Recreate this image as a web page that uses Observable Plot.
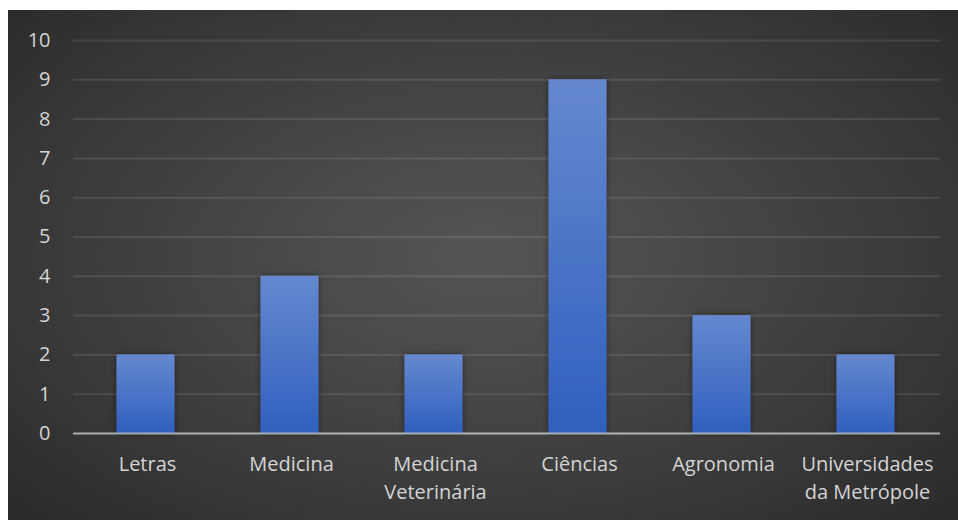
<!DOCTYPE html>
<html>
<head>
<meta charset="utf-8">
<script src="https://cdn.jsdelivr.net/npm/d3@7"></script>
<script src="https://cdn.jsdelivr.net/npm/@observablehq/plot@0.6"></script>
<style>
  html, body { margin: 0; padding: 0; background: #ffffff; }
  #frame {
    position: absolute; left: 8px; top: 10px; width: 950px; height: 510px;
    background: radial-gradient(ellipse 70% 75% at 50% 48%, #555555 0%, #454545 40%, #2a2a2a 100%);
    overflow: hidden;
  }
  #frame svg { background: transparent; }
</style>
</head>
<body>
<div id="frame"></div>
<script>
const categories = ["Letras", "Medicina", "Medicina Veterinária", "Ciências", "Agronomia", "Universidades da Metrópole"];
const tickLabels = ["Letras", "Medicina", "Medicina\nVeterinária", "Ciências", "Agronomia", "Universidades\nda Metrópole"];
const values = [2, 4, 2, 9, 3, 2];
const yTicks = [0, 1, 2, 3, 4, 5, 6, 7, 8, 9, 10];

const data = categories.map((c, i) => ({category: c, value: values[i]}));
const labelOf = new Map(categories.map((c, i) => [c, tickLabels[i]]));

const defs = () => {
  const g = d3.create("svg:defs");
  const lg = g.append("linearGradient").attr("id", "barGrad").attr("x1", 0).attr("y1", 0).attr("x2", 0).attr("y2", 1);
  lg.append("stop").attr("offset", "0%").attr("stop-color", "#6688cf");
  lg.append("stop").attr("offset", "100%").attr("stop-color", "#2f60bf");
  const f = g.append("filter").attr("id", "shadow").attr("x", "-30%").attr("y", "-10%").attr("width", "160%").attr("height", "120%");
  f.append("feDropShadow").attr("dx", 0).attr("dy", 0).attr("stdDeviation", 3).attr("flood-color", "#000").attr("flood-opacity", 0.45);
  return g.node();
};

const chart = Plot.plot({
  width: 950,
  height: 510,
  marginLeft: 65,
  marginRight: 18,
  marginTop: 30,
  marginBottom: 87,
  style: {fontFamily: "'Open Sans', sans-serif", fontSize: "20px", color: "#d4d4d4", background: "transparent"},
  x: {domain: categories, paddingInner: 0.6, paddingOuter: 0.3, label: null},
  y: {domain: [0, 10], ticks: yTicks, label: null},
  marks: [
    defs,
    Plot.gridY(yTicks, {stroke: "#ffffff", strokeOpacity: 0.1, strokeWidth: 2}),
    Plot.barY(data, {x: "category", y: "value", fill: "url(#barGrad)", dx: -1.5}),
    Plot.ruleY([0], {stroke: "#ffffff", strokeOpacity: 0.55, strokeWidth: 2}),
    Plot.axisY(yTicks, {tickSize: 0, tickPadding: 23, fill: "#d4d4d4", fontSize: 20, label: null}),
    Plot.axisX({tickSize: 0, tickPadding: 18, fill: "#d4d4d4", fontSize: 20, lineHeight: 1.4, tickFormat: d => labelOf.get(d), label: null})
  ]
});

document.getElementById("frame").appendChild(chart);
d3.select(chart).selectAll('g[aria-label="bar"] rect').attr("filter", "url(#shadow)");
</script>
</body>
</html>
